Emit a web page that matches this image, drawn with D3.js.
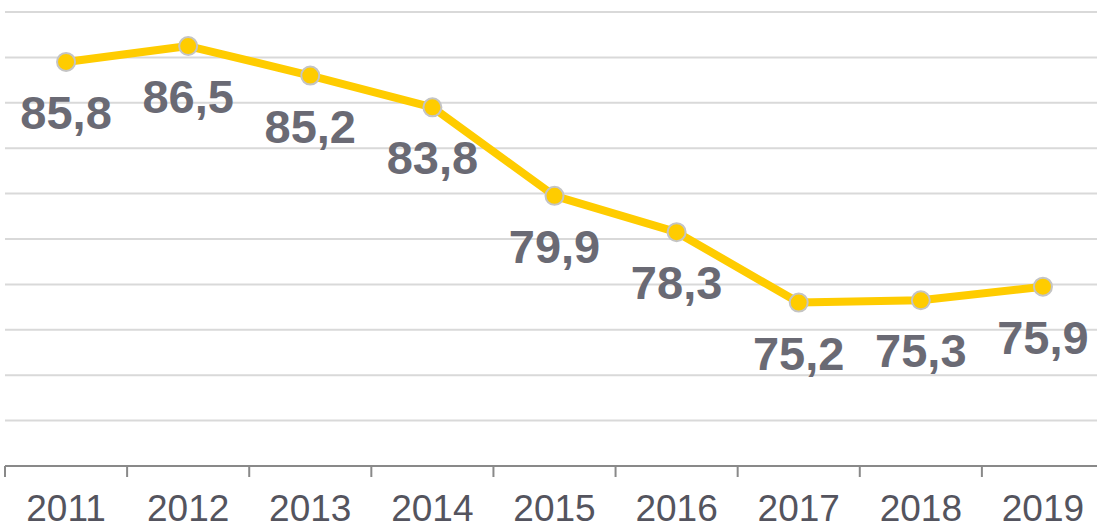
<!DOCTYPE html>
<html>
<head>
<meta charset="utf-8">
<script src="https://cdn.jsdelivr.net/npm/d3@7"></script>
<style>
  html, body { margin: 0; padding: 0; background: #fff; }
  svg { display: block; }
</style>
</head>
<body>
<div id="chart"></div>
<script>
var years = ['2011', '2012', '2013', '2014', '2015', '2016', '2017', '2018', '2019'];
var values = [85.8, 86.5, 85.2, 83.8, 79.9, 78.3, 75.2, 75.3, 75.9];
var gridTicks = [70, 72, 74, 76, 78, 80, 82, 84, 86, 88];

var width = 1097, height = 525;
var margin = {top: 12, right: -7, bottom: 59, left: 5};

var svg = d3.select('#chart').append('svg')
    .attr('width', width)
    .attr('height', height)
    .style('font-family', 'Liberation Sans, Arial, sans-serif');

var x = d3.scaleBand()
    .domain(years)
    .range([margin.left, width - margin.right]);

var y = d3.scaleLinear()
    .domain([68, 88])
    .range([height - margin.bottom, margin.top]);

// grid
svg.append('g')
    .selectAll('line')
    .data(gridTicks)
    .enter().append('line')
        .attr('x1', margin.left)
        .attr('x2', width)
        .attr('y1', d => y(d))
        .attr('y2', d => y(d))
        .attr('stroke', '#d9d9d9')
        .attr('stroke-width', 2);

// x axis
var axisY = y(68);
svg.append('line')
    .attr('x1', margin.left)
    .attr('x2', width)
    .attr('y1', axisY)
    .attr('y2', axisY)
    .attr('stroke', '#898989')
    .attr('stroke-width', 2);

svg.append('g')
    .selectAll('line')
    .data(years)
    .enter().append('line')
        .attr('x1', d => x(d))
        .attr('x2', d => x(d))
        .attr('y1', axisY)
        .attr('y2', axisY + 11)
        .attr('stroke', '#898989')
        .attr('stroke-width', 2);

svg.append('g')
    .selectAll('text')
    .data(years)
    .enter().append('text')
        .attr('x', d => x(d) + x.bandwidth() / 2)
        .attr('y', axisY + 55)
        .attr('text-anchor', 'middle')
        .attr('fill', '#54545e')
        .style('font-size', '37px')
        .text(d => d);

// line
var cx = (d, i) => x(years[i]) + x.bandwidth() / 2;
var line = d3.line()
    .x(cx)
    .y(d => y(d));

svg.append('path')
    .datum(values)
    .attr('d', line)
    .attr('fill', 'none')
    .attr('stroke', '#ffcc00')
    .attr('stroke-width', 8)
    .attr('stroke-linejoin', 'round');

svg.append('g')
    .selectAll('circle')
    .data(values)
    .enter().append('circle')
        .attr('cx', cx)
        .attr('cy', d => y(d))
        .attr('r', 9)
        .attr('fill', '#ffcc00')
        .attr('stroke', '#c4c4c4')
        .attr('stroke-width', 2);

// value labels
svg.append('g')
    .selectAll('text')
    .data(values)
    .enter().append('text')
        .attr('x', cx)
        .attr('y', d => y(d) + 67)
        .attr('text-anchor', 'middle')
        .attr('fill', '#6a6a74')
        .style('font-size', '47px')
        .style('font-weight', 'bold')
        .text(d => d.toFixed(1).replace('.', ','));
</script>
</body>
</html>
